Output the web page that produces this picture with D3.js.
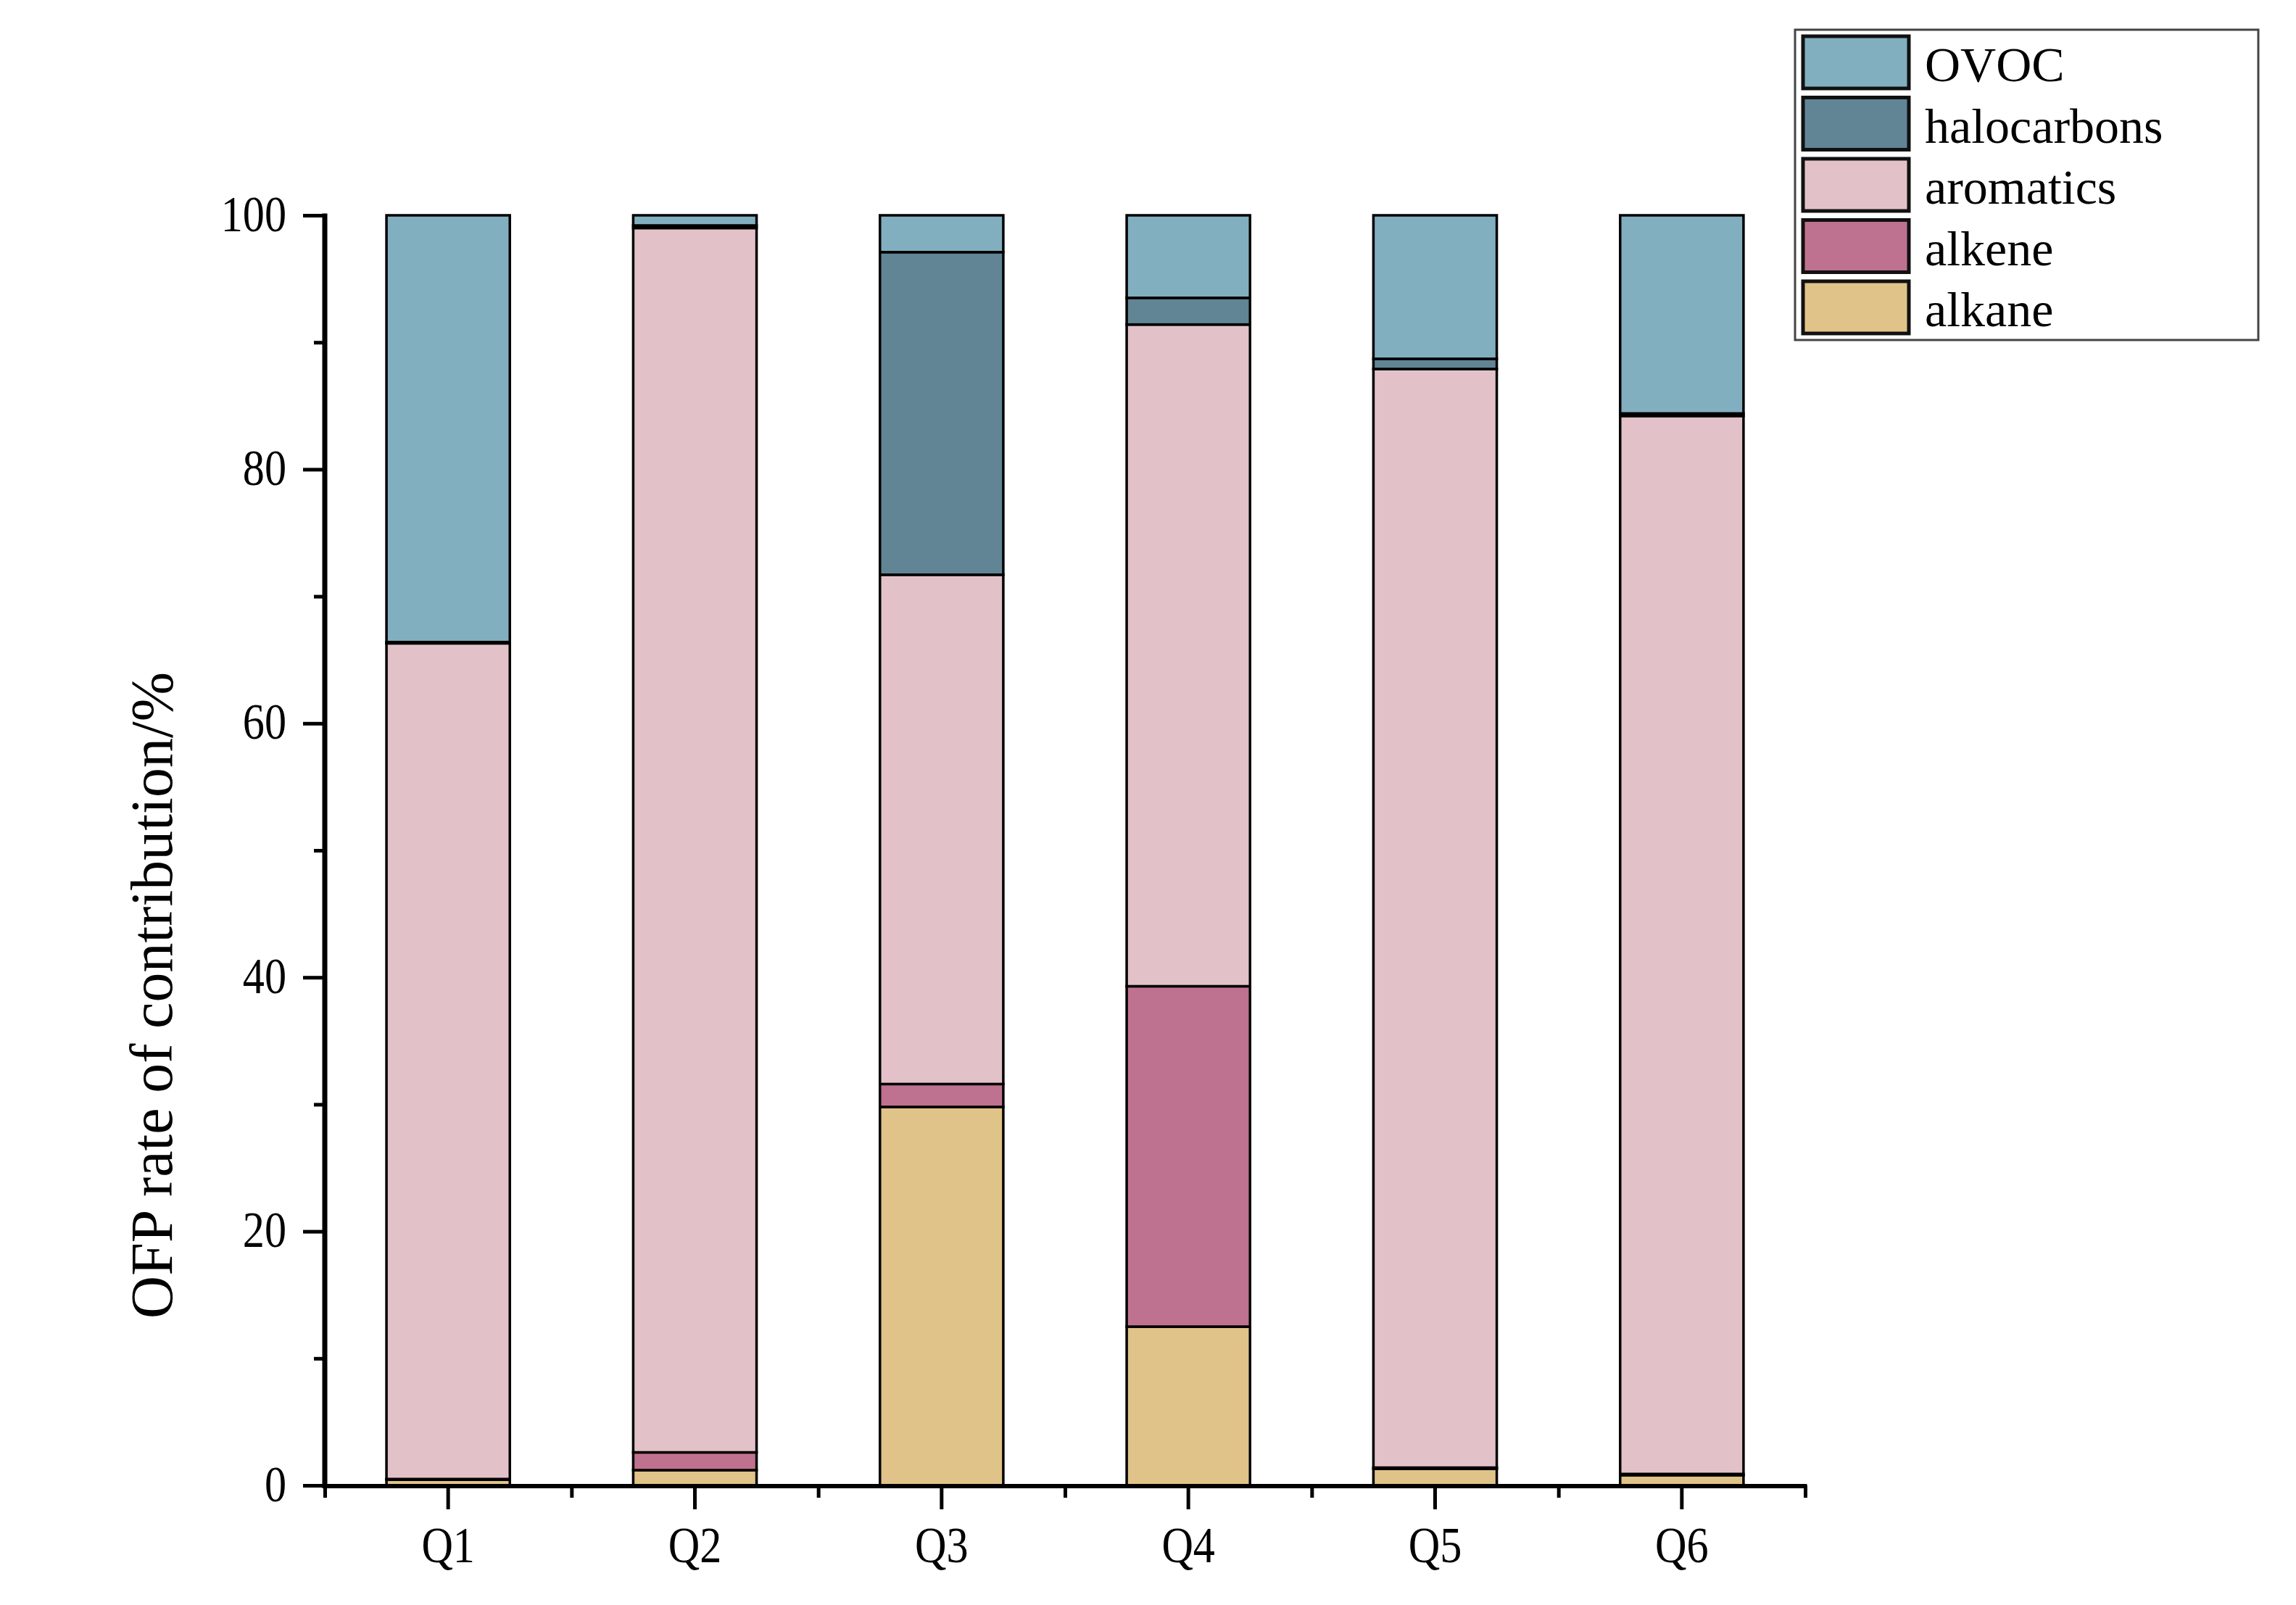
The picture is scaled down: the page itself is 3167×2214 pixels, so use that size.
<!DOCTYPE html>
<html>
<head>
<meta charset="utf-8">
<script src="https://cdn.jsdelivr.net/npm/d3@7"></script>
<style>
  html, body { margin: 0; padding: 0; background: #fff; }
  svg { display: block; }
  text { font-family: "Liberation Serif", "DejaVu Serif", serif; fill: #000; }
</style>
</head>
<body>
<script>
const categories = ["Q1", "Q2", "Q3", "Q4", "Q5", "Q6"];
const seriesNames = ["alkane", "alkene", "aromatics", "halocarbons", "OVOC"];
const alkane      = [0.45, 1.2, 29.8, 12.5, 1.3, 0.8];
const alkene      = [0.05, 1.4, 1.8, 26.8, 0.1, 0.1];
const aromatics   = [65.8, 96.4, 40.1, 52.1, 86.5, 83.3];
const halocarbons = [0.1, 0.2, 25.4, 2.1, 0.8, 0.2];
const OVOC        = [33.6, 0.8, 2.9, 6.5, 11.3, 15.6];
const yTicks = [0, 20, 40, 60, 80, 100];
const yMinorTicks = [10, 30, 50, 70, 90];
const yLabel = "OFP rate of contribution/%";
const legendOrder = ["OVOC", "halocarbons", "aromatics", "alkene", "alkane"];

const colors = {
  alkane: "#E0C388",
  alkene: "#BF728F",
  aromatics: "#E2C2C8",
  halocarbons: "#618594",
  OVOC: "#82AFC0"
};

const W = 3167, H = 2214;
const mLeft = 448, mRight = 2490, mTop = 297, mBottom = 2049;

const seriesData = { alkane, alkene, aromatics, halocarbons, OVOC };
const table = categories.map((c, i) => {
  const row = { cat: c };
  seriesNames.forEach(s => row[s] = seriesData[s][i]);
  return row;
});
const stacked = d3.stack().keys(seriesNames)(table);

const svg = d3.select("body").append("svg").attr("width", W).attr("height", H);

const x = d3.scaleBand().domain(categories).range([mLeft, mRight]).paddingInner(0.5).paddingOuter(0.25);
const y = d3.scaleLinear().domain([0, 100]).range([mBottom, mTop]);

function condense(sel, f) {
  sel.each(function () {
    const w = this.getComputedTextLength();
    d3.select(this).attr("textLength", w * f).attr("lengthAdjust", "spacingAndGlyphs");
  });
}

// bars
const g = svg.append("g");
stacked.forEach(layer => {
  g.append("g").selectAll("rect").data(layer).join("rect")
    .attr("x", d => x(d.data.cat))
    .attr("width", x.bandwidth())
    .attr("y", d => y(d[1]))
    .attr("height", d => y(d[0]) - y(d[1]))
    .attr("fill", colors[layer.key])
    .attr("stroke", "#000")
    .attr("stroke-width", 3.5);
});

// y axis
const yAxis = svg.append("g").attr("transform", `translate(${mLeft},0)`)
  .call(d3.axisLeft(y).tickValues(yTicks).tickSize(30).tickPadding(23).tickFormat(d3.format("d")));
yAxis.select(".domain").remove();
yAxis.selectAll(".tick line").attr("stroke", "#000").attr("stroke-width", 5);
yAxis.selectAll(".tick text").attr("font-size", 70).attr("font-family", "Liberation Serif")
  .attr("dy", "0.3em");
condense(yAxis.selectAll(".tick text"), 0.86);
const yMinor = svg.append("g").attr("transform", `translate(${mLeft},0)`)
  .call(d3.axisLeft(y).tickValues(yMinorTicks).tickSize(15).tickFormat(""));
yMinor.select(".domain").remove();
yMinor.selectAll(".tick line").attr("stroke", "#000").attr("stroke-width", 5);
svg.append("line").attr("x1", mLeft).attr("x2", mLeft).attr("y1", y(100) - 2.5).attr("y2", mBottom + 3)
  .attr("stroke", "#000").attr("stroke-width", 7);

// x axis
const xAxis = svg.append("g").attr("transform", `translate(0,${mBottom})`)
  .call(d3.axisBottom(x).tickSize(33).tickPadding(40));
xAxis.select(".domain").remove();
xAxis.selectAll(".tick line").attr("stroke", "#000").attr("stroke-width", 5);
xAxis.selectAll(".tick text").attr("font-size", 70).attr("font-family", "Liberation Serif")
  .attr("y", 106).attr("dy", 0);
condense(xAxis.selectAll(".tick text"), 0.86);
const boundaries = categories.map(c => x(c) - x.step() * x.paddingInner() / 2)
  .concat([mRight]);
const xMinorScale = d3.scaleLinear().domain([mLeft, mRight]).range([mLeft, mRight]);
const xMinor = svg.append("g").attr("transform", `translate(0,${mBottom})`)
  .call(d3.axisBottom(xMinorScale).tickValues(boundaries).tickSize(17).tickFormat(""));
xMinor.select(".domain").remove();
xMinor.selectAll(".tick line").attr("stroke", "#000").attr("stroke-width", 5);
svg.append("line").attr("x1", mLeft - 3.5).attr("x2", mRight + 2.5).attr("y1", mBottom + 1).attr("y2", mBottom + 1)
  .attr("stroke", "#000").attr("stroke-width", 6);

// y label
svg.append("text")
  .attr("transform", `translate(237,1373) rotate(-90)`)
  .attr("text-anchor", "middle")
  .attr("font-size", 82)
  .text(yLabel);

// legend
const lg = svg.append("g");
lg.append("rect").attr("x", 2476).attr("y", 41).attr("width", 639).attr("height", 428)
  .attr("fill", "#fff").attr("stroke", "#444").attr("stroke-width", 3);
legendOrder.forEach((k, i) => {
  const yy = 50 + i * 84.5;
  lg.append("rect").attr("x", 2487).attr("y", yy).attr("width", 146).attr("height", 72)
    .attr("fill", colors[k]).attr("stroke", "#111").attr("stroke-width", 5);
  lg.append("text").attr("x", 2655).attr("y", yy + 62)
    .attr("font-size", 68).text(k);
});
</script>
</body>
</html>
